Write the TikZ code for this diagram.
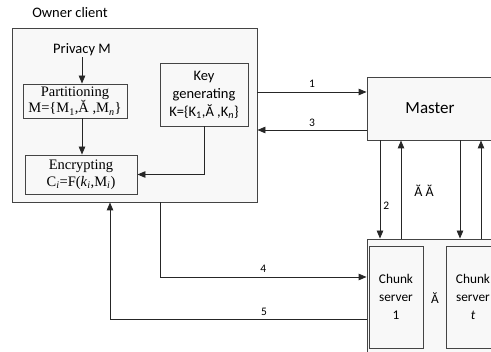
\documentclass[tikz,border=0pt]{standalone}
\usepackage{fontspec}
\setmainfont{Carlito}
\newfontfamily\timesfont{Liberation Serif}
\usepackage{tikz}
\usetikzlibrary{arrows.meta}
\definecolor{boxline}{HTML}{444444}
\definecolor{boxfill}{HTML}{F8F8F8}
\tikzset{
    plain-box/.style = {draw=boxline, fill=boxfill, line width=0.9pt, rectangle, inner sep=2pt, align=center},
    flow-arrow/.style = {draw=black!85, line width=0.9pt, -{Triangle[length=8pt,width=6.5pt]}},
    step-label/.style = {font=\fontsize{11.5}{13}\selectfont, inner sep=1pt},
}

\begin{document}
\begin{tikzpicture}[x=1pt, y=-1pt]
\clip (0,0) rectangle (491,352);
\useasboundingbox (0,0) rectangle (491,352);
\fill[white] (0,0) rectangle (491,352);
% owner side
\node[plain-box, minimum width=245pt, minimum height=174pt] (client) at (134.5,115) {};
\node[font=\fontsize{14.5}{17}\selectfont] (clientname) at (70,13) {Owner client};
\node[font=\fontsize{14.5}{17}\selectfont, inner sep=1pt] (privacy) at (82,50) {Privacy M};
\node[plain-box, minimum width=104pt, minimum height=34pt, font=\timesfont\fontsize{14.5}{16.5}\selectfont] (partition) at (75,101) {Partitioning\\M=\{M\textsubscript{1},Ă ,M\textsubscript{\textit{n}}\}};
\node[plain-box, minimum width=88pt, minimum height=63pt, font=\fontsize{14.5}{18}\selectfont] (keygen) at (204,94.5) {Key\\generating\\K=\{K\textsubscript{1},Ă ,K\textsubscript{\textit{n}}\}};
\node[plain-box, minimum width=112pt, minimum height=39pt, font=\timesfont\fontsize{14.5}{16.5}\selectfont] (encrypt) at (81,174.5) {Encrypting\\C\textsubscript{\textit{i}}=F(\textit{k}\textsubscript{\textit{i}},M\textsubscript{\textit{i}})};
% cloud side
\node[plain-box, minimum width=126pt, minimum height=63pt, font=\fontsize{17}{20}\selectfont] (master) at (430,108.5) {Master};
\node[plain-box, minimum width=138pt, minimum height=121pt] (chunks) at (436,299.5) {};
\node[plain-box, minimum width=54pt, minimum height=102pt, font=\fontsize{13.3}{18}\selectfont] (chunk1) at (396,297) {Chunk\\server\\1};
\node[plain-box, minimum width=54pt, minimum height=102pt, font=\fontsize{13.3}{18}\selectfont] (chunkt) at (473,297) {Chunk\\server\\\textit{t}};
\node[font=\fontsize{13.3}{16}\selectfont] (dots) at (435,298) {Ă};
\node[font=\fontsize{14}{16}\selectfont] (masterdots) at (424,191) {Ă Ă};

% inside the client
\draw[flow-arrow] (privacy.south) -- (privacy.south |- partition.north);
\draw[flow-arrow] (partition.south -| privacy) -- (privacy |- encrypt.north);
\draw[flow-arrow] (keygen.south) |- (encrypt.east);

% client <-> master
\draw[flow-arrow] (client.east |- 0,92) -- (master.west |- 0,92) node[step-label, midway, above=3pt] {1};
\draw[flow-arrow] (master.west |- 0,130) -- (client.east |- 0,130) node[step-label, midway, above=2pt] {3};

% master <-> chunk servers
\draw[flow-arrow] (master.south -| 380,0) -- (chunks.north -| 380,0) node[step-label, pos=0.67, right=2pt] {2};
\draw[flow-arrow] (chunks.north -| 401,0) -- (master.south -| 401,0);
\draw[flow-arrow] (master.south -| 460,0) -- (chunks.north -| 460,0);
\draw[flow-arrow] (chunks.north -| 481,0) -- (master.south -| 481,0);

% client <-> chunk servers
\draw[flow-arrow] (client.south -| 160,0) -- (160,277) -- (chunks.west |- 0,277) node[step-label, pos=0.5, above=3pt] {4};
\draw[flow-arrow] (chunks.west |- 0,319) -- (110,319) node[step-label, pos=0.4, above=1.5pt] {5} -- (client.south -| 110,0);
\end{tikzpicture}
\end{document}
